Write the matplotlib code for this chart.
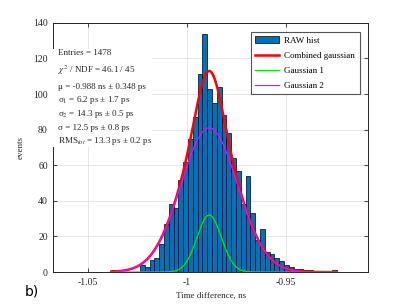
import numpy as np
import matplotlib
matplotlib.use("Agg")
import matplotlib.pyplot as plt
from matplotlib.patches import Rectangle

plt.rcParams['font.family'] = ['Liberation Serif', 'DejaVu Serif']
plt.rcParams['mathtext.fontset'] = 'stix'

# histogram: 47 bins, counts
bin_lo = -1.0384
bin_hi = -0.9242
counts = [1, 0, 0, 0, 0, 0, 4, 3, 7, 8,
          16, 27, 38, 36, 52, 62, 75, 87, 111, 134,
          103, 95, 104, 88, 78, 64, 57, 38, 54, 33,
          18, 24, 11, 10, 8, 6, 4, 3, 2, 2,
          1, 1, 0, 0, 0, 0, 1]

# fit parameters (ns)
mu = -0.9888
sigma1 = 0.0062
sigma2 = 0.0143
amp1 = 32
amp2 = 81

xticks = [-1.05, -1, -0.95]
xticklabels = ['-1.05', '-1', '-0.95']
yticks = [0, 20, 40, 60, 80, 100, 120, 140]

info_lines = [
    'Entries = 1478',
    r'$\chi^2$ / NDF = 46.1 / 45',
    'μ = -0.988 ns ± 0.348 ps',
    r'σ$_1$ = 6.2 ps ± 1.7 ps',
    r'σ$_2$ = 14.3 ps ± 0.5 ps',
    'σ = 12.5 ps ± 0.8 ps',
    r'RMS$_{tot}$ = 13.3 ps ± 0.2 ps',
]
info_y = [0.880, 0.810, 0.741, 0.690, 0.634, 0.580, 0.524]

fig = plt.figure(figsize=(4.07, 3.05), dpi=100)
ax = fig.add_axes([0.131, 0.108, 0.774, 0.817])

edges = np.linspace(bin_lo, bin_hi, len(counts) + 1)
h_bar = ax.bar(edges[:-1], counts, width=np.diff(edges), align='edge',
               color='#0072BD', edgecolor='black', linewidth=0.5,
               label='RAW hist', zorder=2)

xs = np.linspace(bin_lo, bin_hi, 400)
g1 = amp1 * np.exp(-0.5 * ((xs - mu) / sigma1) ** 2)
g2 = amp2 * np.exp(-0.5 * ((xs - mu) / sigma2) ** 2)
h_sum, = ax.plot(xs, g1 + g2, color='red', lw=1.8, label='Combined gaussian', zorder=3)
h_g1, = ax.plot(xs, g1, color='#00ee00', lw=0.9, label='Gaussian 1', zorder=4)
h_g2, = ax.plot(xs, g2, color='magenta', lw=0.9, label='Gaussian 2', zorder=5)

ax.set_xlim(-1.0677, -0.9083)
ax.set_ylim(0, 140)
ax.set_xticks(xticks)
ax.set_xticklabels(xticklabels)
ax.set_yticks(yticks)
ax.tick_params(direction='in', top=True, right=True, labelsize=7,
               colors='#262626', length=3, width=0.6, pad=4)
ax.grid(True, color='#dcdcdc', lw=0.5, zorder=0)
ax.set_axisbelow(True)
for s in ax.spines.values():
    s.set_color('#262626')
    s.set_linewidth(0.7)

ax.set_xlabel('Time difference, ns', fontsize=6.5, color='#262626', labelpad=4)
ax.set_ylabel('events', fontsize=6.5, color='#262626', labelpad=6)

# white box behind the fit summary
ax.add_patch(Rectangle((0.0, 0.503), 0.313, 0.391, transform=ax.transAxes,
                       facecolor='white', edgecolor='none', zorder=6))
for s, y in zip(info_lines, info_y):
    ax.text(0.015, y, s, transform=ax.transAxes, fontsize=6.5,
            va='center', ha='left', color='#262626', zorder=7)

leg = ax.legend([h_bar, h_sum, h_g1, h_g2],
                ['RAW hist', 'Combined gaussian', 'Gaussian 1', 'Gaussian 2'],
                loc='upper right', bbox_to_anchor=(0.972, 0.964),
                fontsize=6.5, fancybox=False, framealpha=1,
                edgecolor='#555555', borderpad=0.5, labelspacing=0.75,
                handlelength=2.6, handletextpad=0.6, borderaxespad=0)
leg.get_frame().set_linewidth(0.8)
leg.set_zorder(8)

fig.text(0.06, 0.03, 'b)', fontsize=10, family='DejaVu Sans')

fig.savefig('out.png', dpi=100)
